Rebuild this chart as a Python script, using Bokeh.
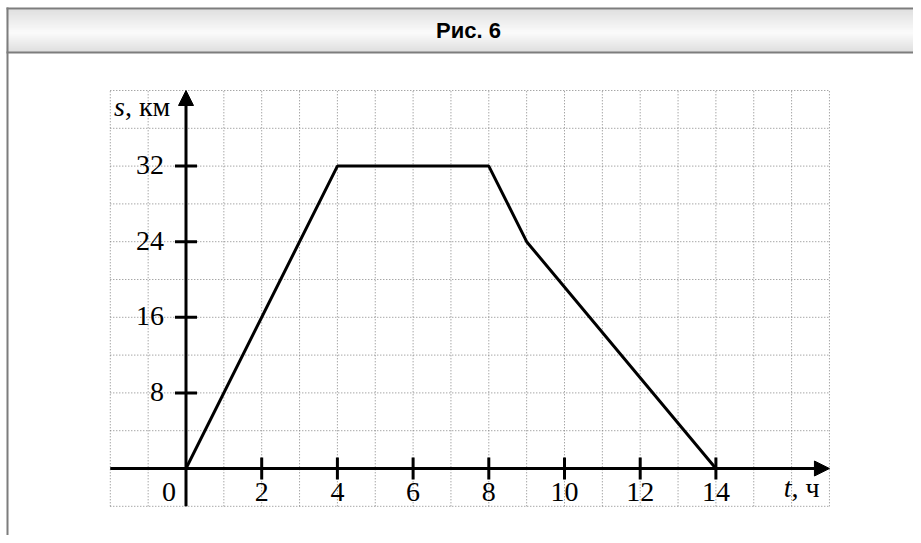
from bokeh.plotting import figure
from bokeh.models import Range1d, Arrow, NormalHead
from bokeh.embed import file_html
from bokeh.resources import INLINE
from bokeh.core.properties import value
import math

# ---- data ----
t_hours = [0, 4, 8, 9, 14]
s_km = [0, 32, 32, 24, 0]
x_ticks = [2, 4, 6, 8, 10, 12, 14]
x_tick_labels = ["2", "4", "6", "8", "10", "12", "14"]
y_ticks = [8, 16, 24, 32]
y_tick_labels = ["8", "16", "24", "32"]
origin_label = "0"
title_text = "Рис. 6"
x_name, x_unit = "t", ", ч"
y_name, y_unit = "s", ", км"
x_min, x_max = -2, 17
y_min, y_max = -4, 40
grid_dx = 1
grid_dy = 4

# ---- layout constants ----
W, H = 913, 535
PX_X, PX_Y = 37.85, 9.45          # pixels per unit
ORIGIN_FX, ORIGIN_FY = 185.5, 468  # origin position inside frame (from left / top)
xs = -ORIGIN_FX / PX_X
ye = ORIGIN_FY / PX_Y

p = figure(width=W, height=H, output_backend="svg", toolbar_location=None,
           x_range=Range1d(xs, xs + W / PX_X), y_range=Range1d(ye - H / PX_Y, ye),
           x_axis_location=None, y_axis_location=None, min_border=0,
           outline_line_color=None, background_fill_color="white",
           border_fill_color="white")
p.grid.grid_line_color = None
p.extra_x_ranges = {"px": Range1d(0, W)}
p.extra_y_ranges = {"px": Range1d(H, 0)}

# ---- header band with gradient ----
top, bot = 9, 52
stops = [(0.0, 214), (0.55, 250), (1.0, 212)]
def shade(f):
    for (a, ca), (b, cb) in zip(stops, stops[1:]):
        if a <= f <= b:
            return round(ca + (cb - ca) * (f - a) / (b - a))
    return stops[-1][1]
yy = list(range(top, bot))
cols = []
for y in yy:
    g = shade((y - top) / (bot - top - 1))
    cols.append("#%02x%02x%02x" % (g, g, g))
p.quad(left=[6] * len(yy), right=[W] * len(yy), top=yy, bottom=[y + 1 for y in yy],
       fill_color=cols, line_color=None, x_range_name="px", y_range_name="px")
# borders
p.quad(left=[6, 6, 6], right=[W, W, 8], top=[7, 51, 7], bottom=[9, 53, H],
       fill_color="#7d7d7d", line_color=None, x_range_name="px", y_range_name="px")
p.text(x=[468], y=[30], text=[title_text], text_align="center", text_baseline="middle",
       text_font=value("Liberation Sans"), text_font_style="bold", text_font_size="22px",
       text_color="black", x_range_name="px", y_range_name="px")

# ---- dotted grid ----
gx = list(range(x_min, x_max + 1, grid_dx))
gy = list(range(y_min, y_max + 1, grid_dy))
p.segment(x0=gx, x1=gx, y0=[y_min] * len(gx), y1=[y_max] * len(gx),
          line_color="#808080", line_width=1, line_dash="1 2")
p.segment(x0=[x_min] * len(gy), x1=[x_max] * len(gy), y0=gy, y1=gy,
          line_color="#808080", line_width=1, line_dash="1 2")

# ---- axes with arrows ----
p.add_layout(Arrow(x_start=x_min, y_start=0, x_end=x_max, y_end=0, line_width=3,
                   line_color="black",
                   end=NormalHead(size=15, fill_color="black", line_color="black", line_width=1)))
p.add_layout(Arrow(x_start=0, y_start=y_min, x_end=0, y_end=y_max, line_width=3,
                   line_color="black",
                   end=NormalHead(size=15, fill_color="black", line_color="black", line_width=1)))

# ticks
p.scatter(x=x_ticks, y=[0] * len(x_ticks), marker="dash", size=22, angle=math.pi / 2,
          line_color="black", line_width=3)
p.scatter(x=[0] * len(y_ticks), y=y_ticks, marker="dash", size=22,
          line_color="black", line_width=3)

# ---- data line ----
p.line(t_hours, s_km, line_color="black", line_width=3)

# ---- tick labels ----
serif = value("Liberation Serif")
fs = "28px"
p.text(x=x_ticks, y=[0] * len(x_ticks), text=x_tick_labels, text_align="center",
       text_baseline="alphabetic", y_offset=23, text_font=serif, text_font_size=fs,
       text_color="black")
p.text(x=[0], y=[0], text=[origin_label], text_align="center", text_baseline="alphabetic",
       x_offset=-17, y_offset=23, text_font=serif, text_font_size=fs, text_color="black")
p.text(x=[0] * len(y_ticks), y=y_ticks, text=y_tick_labels, text_align="right",
       text_baseline="alphabetic", x_offset=-22, y_offset=-1, text_font=serif,
       text_font_size=fs, text_color="black")

# axis names
p.text(x=[0], y=[y_max], text=[y_name], text_align="right", text_baseline="alphabetic",
       x_offset=-61, y_offset=16, text_font=serif, text_font_size=fs,
       text_font_style="italic", text_color="black")
p.text(x=[0], y=[y_max], text=[y_unit], text_align="left", text_baseline="alphabetic",
       x_offset=-61, y_offset=16, text_font=serif, text_font_size=fs, text_color="black")
p.text(x=[x_max], y=[0], text=[x_name], text_align="right", text_baseline="alphabetic",
       x_offset=-38, y_offset=19, text_font=serif, text_font_size=fs,
       text_font_style="italic", text_color="black")
p.text(x=[x_max], y=[0], text=[x_unit], text_align="left", text_baseline="alphabetic",
       x_offset=-38, y_offset=19, text_font=serif, text_font_size=fs, text_color="black")

open("out.html", "w").write(file_html(p, INLINE))
